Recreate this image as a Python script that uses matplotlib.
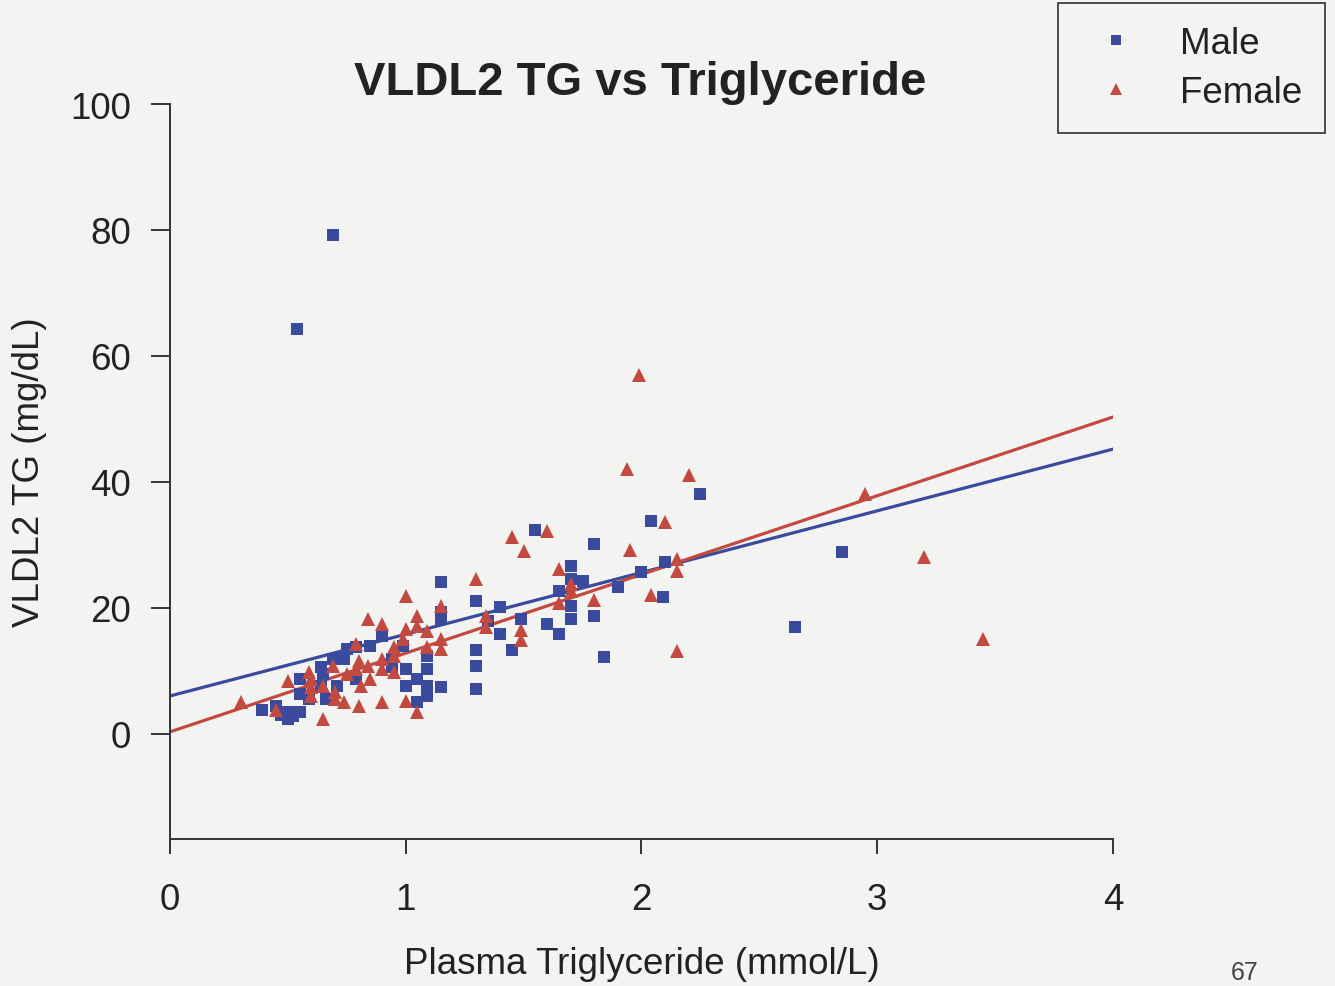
import matplotlib
matplotlib.use("Agg")
import matplotlib.pyplot as plt
import numpy as np

plt.rcParams['font.family'] = ['Liberation Sans', 'DejaVu Sans']

title = "VLDL2 TG vs Triglyceride"
xlabel = "Plasma Triglyceride (mmol/L)"
ylabel = "VLDL2 TG (mg/dL)"
xticks = [0, 1, 2, 3, 4]
yticks = [0, 20, 40, 60, 80, 100]

male_x = [0.54, 0.69, 0.45, 0.50, 0.50, 0.55, 0.55, 0.64, 0.65, 0.64, 0.71, 0.69,
          0.75, 0.79, 0.85, 0.90, 0.99, 1.00, 1.00, 1.05, 1.09, 1.09, 1.09, 1.05,
          1.09, 1.15, 1.15, 1.15, 1.15, 1.30, 1.30, 1.30, 1.30, 1.40, 1.40, 1.45,
          1.35, 1.49, 1.55, 1.60, 1.65, 1.65, 1.70, 1.70, 1.75, 1.70, 1.70, 1.80,
          1.80, 1.84, 1.90, 2.00, 2.04, 2.10, 2.09, 2.25, 2.65, 2.85, 0.74, 0.59,
          0.39, 0.94, 0.94, 0.79, 0.55, 0.66, 0.52, 0.47]
male_y = [64.3, 79.2, 4.4, 3.5, 2.4, 3.5, 8.7, 10.6, 9.5, 7.6, 7.6, 11.9,
          13.5, 13.8, 14.0, 15.6, 14.0, 10.3, 7.6, 8.7, 10.3, 12.4, 7.6, 5.1,
          6.0, 7.5, 24.1, 18.3, 19.4, 21.1, 13.3, 10.8, 7.1, 20.2, 15.9, 13.3,
          17.9, 18.3, 32.4, 17.5, 15.9, 22.7, 26.7, 24.6, 24.3, 20.3, 18.3, 30.2,
          18.7, 12.2, 23.3, 25.7, 33.8, 27.3, 21.7, 38.1, 17.0, 28.9, 11.9, 5.6,
          3.7, 11.9, 10.6, 8.7, 6.3, 5.6, 2.8, 3.0]

female_x = [0.30, 0.45, 0.50, 0.65, 0.59, 0.60, 0.60, 0.60, 0.65, 0.69, 0.70, 0.70,
            0.75, 0.74, 0.79, 0.80, 0.79, 0.81, 0.80, 0.84, 0.90, 0.84, 0.85, 0.90,
            0.90, 0.90, 0.95, 0.95, 0.95, 1.00, 1.00, 0.99, 1.05, 1.05, 1.09, 1.15,
            1.15, 1.00, 1.05, 1.30, 1.34, 1.34, 1.49, 1.49, 1.45, 1.50, 1.60, 1.65,
            1.70, 1.70, 1.65, 1.80, 1.99, 1.94, 2.20, 1.95, 2.10, 2.15, 2.15, 2.04,
            2.15, 2.95, 3.20, 3.45, 1.09, 1.15]
female_y = [5.1, 3.7, 8.3, 2.4, 9.8, 8.7, 7.5, 6.0, 7.6, 10.8, 6.7, 5.6,
            9.5, 5.1, 14.3, 11.6, 10.3, 7.6, 4.4, 18.3, 17.5, 10.8, 8.7, 10.3,
            11.9, 5.1, 13.8, 12.4, 9.8, 21.9, 16.7, 15.1, 18.7, 17.1, 16.3, 20.3,
            13.5, 5.2, 3.5, 24.6, 18.7, 17.0, 16.5, 14.9, 31.3, 29.0, 32.2, 26.2,
            23.8, 22.7, 20.8, 21.3, 57.0, 42.1, 41.1, 29.2, 33.7, 27.8, 25.9, 22.1,
            13.2, 38.1, 28.1, 15.1, 13.8, 15.1]

# regression lines (intercept, slope)
male_fit = (6.0, 9.8)
female_fit = (0.3, 12.5)

blue = "#3a4a9c"
red = "#c24a40"
bg = "#f3f3f1"
fs = 26.5

fig = plt.figure(figsize=(13.35, 9.87), dpi=100, facecolor=bg)
ax = fig.add_axes([0.1273, 0.149, 0.7064, 0.7446])
ax.set_facecolor(bg)

xl = np.array([0, 4])
ax.plot(xl, male_fit[0] + male_fit[1] * xl, color=blue, lw=2.3, zorder=2)
ax.plot(xl, female_fit[0] + female_fit[1] * xl, color=red, lw=2.3, zorder=2)
ax.plot(male_x, male_y, 's', color=blue, ms=9, mew=0, ls='none', zorder=3)
ax.plot(female_x, female_y, '^', color=red, ms=10.5, mew=0, ls='none', zorder=4)

ax.set_xlim(0, 4)
ax.set_ylim(-16.7, 100)
ax.set_xticks(xticks)
ax.set_yticks(yticks)
ax.set_xticklabels([str(t) for t in xticks])
ax.set_yticklabels([str(t) for t in yticks])
for s in ['top', 'right']:
    ax.spines[s].set_visible(False)
for s in ['left', 'bottom']:
    ax.spines[s].set_color('#333333')
    ax.spines[s].set_linewidth(1.4)
ax.tick_params(axis='y', direction='out', length=14, width=1.4, colors='#333333',
               labelsize=fs, labelcolor='#222222', pad=14)
ax.tick_params(axis='x', direction='out', length=11, width=1.4, colors='#333333',
               labelsize=fs, labelcolor='#222222', pad=20)
ax.set_xlabel(xlabel, fontsize=fs, color='#222222', labelpad=21)
ax.set_ylabel(ylabel, fontsize=fs, color='#222222', labelpad=17)

fig.text(0.4794, 1 - 95 / 987, title, fontsize=34, fontweight='bold', ha='center',
         va='baseline', color='#222222')

hm = plt.Line2D([], [], marker='s', color=blue, ms=7, ls='none', mew=0)
hf = plt.Line2D([], [], marker='^', color=red, ms=8.5, ls='none', mew=0)
leg = fig.legend([hm, hf], ['Male', 'Female'], loc='upper right',
                 bbox_to_anchor=(0.9925, 0.996), fontsize=fs, frameon=True,
                 fancybox=False, edgecolor='#222222', facecolor=bg,
                 handletextpad=0.75, borderpad=0.62, labelspacing=0.38,
                 borderaxespad=0, handlelength=1.95)
leg.get_frame().set_linewidth(1.4)
for t in leg.get_texts():
    t.set_color('#222222')

fig.text(0.922, 0.002, "67", fontsize=18, color='#444444', ha='left', va='bottom')

fig.savefig("out.png", dpi=100, facecolor=bg)
